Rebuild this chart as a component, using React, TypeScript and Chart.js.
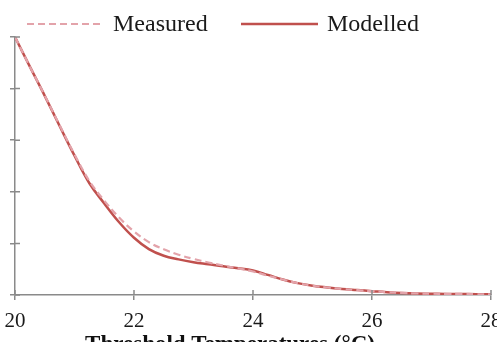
import React, { useEffect, useRef } from "react";
import { Chart, registerables } from "chart.js";

Chart.register(...registerables);

const temps = [20, 20.25, 20.5, 20.75, 21, 21.25, 21.5, 21.75, 22, 22.25, 22.5, 22.75, 23, 23.25, 23.5, 23.75, 24, 24.25, 24.5, 24.75, 25, 25.25, 25.5, 25.75, 26, 26.25, 26.5, 26.75, 27, 27.25, 27.5, 27.75, 28];
const measured = [1.0, 0.885, 0.773, 0.658, 0.545, 0.442, 0.366, 0.3, 0.246, 0.205, 0.177, 0.156, 0.14, 0.126, 0.114, 0.103, 0.091, 0.075, 0.06, 0.046, 0.036, 0.029, 0.023, 0.019, 0.015, 0.011, 0.008, 0.006, 0.005, 0.004, 0.004, 0.003, 0.003];
const modelled = [1.0, 0.885, 0.772, 0.655, 0.54, 0.433, 0.355, 0.282, 0.222, 0.178, 0.152, 0.138, 0.127, 0.119, 0.111, 0.104, 0.095, 0.078, 0.06, 0.046, 0.036, 0.029, 0.023, 0.019, 0.015, 0.011, 0.008, 0.006, 0.005, 0.004, 0.004, 0.003, 0.003];
const xTicks = [20, 22, 24, 26, 28];
const seriesNames = ["Measured", "Modelled"];
const xTitle = "Threshold Temperatures (°C)";

const FONT = "'Liberation Serif', 'Times New Roman', serif";
const AXIS = "#8a8a8a";
const RED = "#c0504d";
const PINK = "#e3a3aa";

const extrasPlugin = {
  id: "extras",
  afterDraw(chart: any) {
    const ctx = chart.ctx;
    const x = chart.scales.x;
    const y = chart.scales.y;
    const area = chart.chartArea;
    ctx.save();
    // inner halves of tick marks
    ctx.strokeStyle = AXIS;
    ctx.lineWidth = 1.5;
    ctx.beginPath();
    y.ticks.forEach((t: any) => {
      const py = y.getPixelForValue(t.value);
      ctx.moveTo(area.left, py);
      ctx.lineTo(area.left + 5, py);
    });
    x.ticks.forEach((t: any) => {
      const px = x.getPixelForValue(t.value);
      ctx.moveTo(px, area.bottom);
      ctx.lineTo(px, area.bottom - 5);
    });
    ctx.stroke();

    // legend
    const ds = chart.data.datasets;
    const items = [
      { x0: 27, tx: 113 },
      { x0: 241, tx: 327 },
    ];
    ctx.font = `24px ${FONT}`;
    ctx.textBaseline = "middle";
    ctx.textAlign = "left";
    items.forEach((it, i) => {
      const d = ds[i];
      ctx.strokeStyle = d.borderColor;
      ctx.lineWidth = d.borderWidth;
      ctx.setLineDash(d.borderDash || []);
      ctx.beginPath();
      ctx.moveTo(it.x0, 24);
      ctx.lineTo(it.x0 + 77, 24);
      ctx.stroke();
      ctx.setLineDash([]);
      ctx.fillStyle = "#1a1a1a";
      ctx.fillText(d.label, it.tx, 25);
    });

    // axis title
    ctx.font = `bold 23px ${FONT}`;
    ctx.textAlign = "center";
    ctx.textBaseline = "alphabetic";
    ctx.fillStyle = "#111";
    ctx.fillText(xTitle, 230, 351);
    ctx.restore();
  },
};

export default function App() {
  const ref = useRef<HTMLCanvasElement>(null);
  useEffect(() => {
    if (!ref.current) return;
    const chart = new Chart(ref.current, {
      type: "line",
      data: {
        datasets: [
          {
            label: seriesNames[0],
            data: temps.map((t, i) => ({ x: t, y: measured[i] })),
            borderColor: PINK,
            borderWidth: 2.2,
            borderDash: [7, 4],
            pointRadius: 0,
            tension: 0.4,
            fill: false,
          },
          {
            label: seriesNames[1],
            data: temps.map((t, i) => ({ x: t, y: modelled[i] })),
            borderColor: RED,
            borderWidth: 2.5,
            pointRadius: 0,
            tension: 0.4,
            fill: false,
          },
        ],
      },
      options: {
        animation: false,
        responsive: false,
        layout: { padding: { top: 37, right: 6, left: 0, bottom: 0 } },
        plugins: {
          legend: { display: false },
          tooltip: { enabled: false },
        },
        scales: {
          x: {
            type: "linear",
            min: 20,
            max: 28,
            afterBuildTicks: (s: any) => {
              s.ticks = xTicks.map((v) => ({ value: v }));
            },
            afterFit: (s: any) => {
              s.paddingLeft = 0;
              s.paddingRight = 0;
              s.height = 47;
            },
            grid: {
              drawOnChartArea: false,
              drawTicks: true,
              tickLength: 5,
              color: AXIS,
              lineWidth: 1.5,
            },
            border: { color: AXIS, width: 1.5 },
            ticks: {
              font: { family: FONT, size: 21 },
              color: "#1a1a1a",
              padding: 9,
              maxRotation: 0,
              autoSkip: false,
            },
          },
          y: {
            min: 0,
            max: 1,
            ticks: { display: false, stepSize: 0.2 },
            afterFit: (s: any) => {
              s.width = 15;
              s.paddingTop = 0;
              s.paddingBottom = 0;
            },
            grid: {
              drawOnChartArea: false,
              drawTicks: true,
              tickLength: 5,
              color: AXIS,
              lineWidth: 1.5,
            },
            border: { color: AXIS, width: 1.5 },
          },
        },
      },
      plugins: [extrasPlugin],
    });
    return () => chart.destroy();
  }, []);
  return (
    <div style={{ position: "fixed", left: 0, top: 0, width: 497, height: 342, background: "#fff" }}>
      <canvas ref={ref} width={497} height={342} style={{ width: 497, height: 342, display: "block" }} />
    </div>
  );
}
